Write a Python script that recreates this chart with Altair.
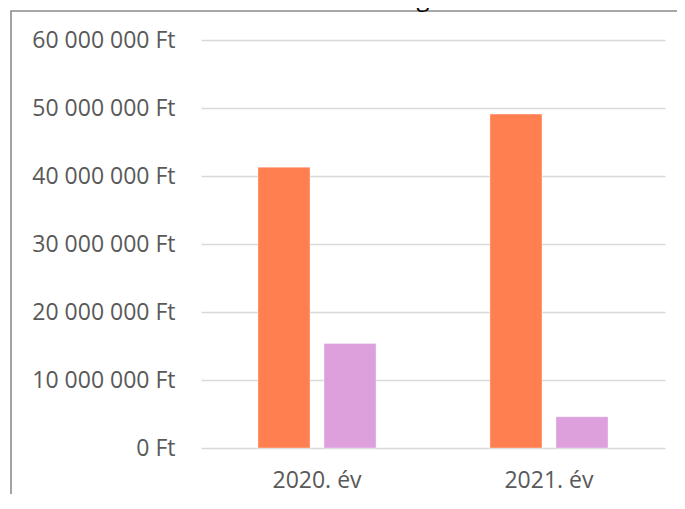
import altair as alt
import pandas as pd

# ---- data ----
years = ["2020. év", "2021. év"]
series = ["Sorozat1", "Sorozat2"]
values_s1 = [41_300_000, 49_100_000]
values_s2 = [15_350_000, 4_600_000]
colors = ["#FF7F50", "#DDA0DD"]
y_ticks = [0, 10_000_000, 20_000_000, 30_000_000, 40_000_000, 50_000_000, 60_000_000]
title_text = "Nettó költség"

rows = []
for i, yr in enumerate(years):
    rows.append({"ev": yr, "sorozat": series[0], "ertek": values_s1[i]})
    rows.append({"ev": yr, "sorozat": series[1], "ertek": values_s2[i]})
df = pd.DataFrame(rows)

FONT = "Open Sans"
LABEL_COLOR = "#595959"

bars = alt.Chart(df).mark_bar(stroke="white", strokeOpacity=0.35, strokeWidth=1).encode(
    x=alt.X(
        "ev:N", sort=years, title=None,
        scale=alt.Scale(paddingInner=0.491, paddingOuter=0.2457),
        axis=alt.Axis(labelAngle=0, domain=False, ticks=False, labelPadding=21,
                      labelFontSize=23, labelColor=LABEL_COLOR, labelFont=FONT, grid=False),
    ),
    xOffset=alt.XOffset("sorozat:N", sort=series,
                        scale=alt.Scale(paddingInner=0.212, paddingOuter=0)),
    y=alt.Y(
        "ertek:Q", title=None,
        scale=alt.Scale(domain=[0, 60_000_000], nice=False),
        axis=alt.Axis(values=y_ticks,
                      labelExpr="replace(format(datum.value, ','), regexp(',', 'g'), ' ') + ' Ft'",
                      domain=False, ticks=False, labelPadding=26, labelFontSize=23,
                      labelColor=LABEL_COLOR, labelFont=FONT,
                      gridColor="#d9d9d9", gridWidth=1.3),
    ),
    color=alt.Color("sorozat:N", scale=alt.Scale(domain=series, range=colors), legend=None),
)

deco = pd.DataFrame({"t": [title_text]})

frame = alt.Chart(deco).mark_rect(fillOpacity=0, stroke="#8c8c8c", strokeWidth=1.6).encode(
    x=alt.value(-190), x2=alt.value(520), y=alt.value(-29), y2=alt.value(520)
)

title = alt.Chart(deco).mark_text(
    font=FONT, fontSize=24, color="#000000", baseline="alphabetic", align="center"
).encode(x=alt.value(154), y=alt.value(-34), text="t:N")

chart = alt.layer(frame, bars, title).properties(
    width=464, height=408,
    autosize=alt.AutoSizeParams(type="none"),
    padding={"left": 193, "top": 32, "right": 12, "bottom": 46},
    background="white",
).configure_view(stroke=None)

chart.save("out.html", embed_options={"renderer": "svg", "actions": False})
